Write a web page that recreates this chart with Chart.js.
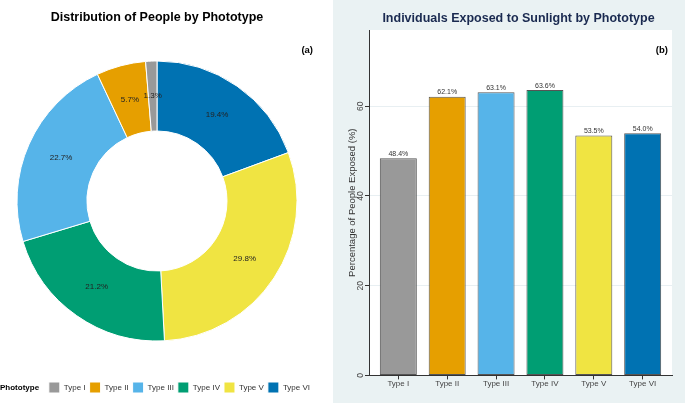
<!DOCTYPE html>
<html>
<head>
<meta charset="utf-8">
<script src="https://cdn.jsdelivr.net/npm/chart.js@4.4.0/dist/chart.umd.min.js"></script>
<style>
  body { margin: 0; background: #fff; }
  #wrap { position: relative; width: 685px; height: 403px; }
  canvas { position: absolute; top: 0; }
</style>
</head>
<body>
<div id="wrap">
  <canvas id="pieChart" width="333" height="403" style="left:0"></canvas>
  <canvas id="barChart" width="352" height="403" style="left:333px"></canvas>
</div>
<script>
const phototypes = ['Type I', 'Type II', 'Type III', 'Type IV', 'Type V', 'Type VI'];
const typeColors = ['#999999', '#E69F00', '#56B4E9', '#009E73', '#F0E442', '#0072B2'];
const sharePct = [1.3, 5.7, 22.7, 21.2, 29.8, 19.4];     // (a) share of people
const exposedPct = [48.4, 62.1, 63.1, 63.6, 53.5, 54.0]; // (b) exposed to sunlight
const yTicks = [0, 20, 40, 60];

const FONT = "'Liberation Sans', Arial, sans-serif";
Chart.defaults.font.family = FONT;
Chart.defaults.animation = false;

// percentages inside slices + panel tag + legend title
const pieText = {
    id: 'pieText',
    afterDraw(chart) {
        const ctx = chart.ctx;
        const ds = chart.data.datasets[0];
        ctx.save();
        ctx.font = '8px ' + FONT;
        ctx.fillStyle = '#222';
        ctx.textAlign = 'center';
        ctx.textBaseline = 'middle';
        chart.getDatasetMeta(0).data.forEach((arc, i) => {
            const p = arc.tooltipPosition();
            ctx.fillText(ds.data[i].toFixed(1) + '%', p.x, p.y);
        });

        ctx.fillStyle = '#000';
        ctx.font = 'bold 9.5px ' + FONT;
        ctx.textAlign = 'right';
        ctx.fillText('(a)', 313, 50);

        const hb = chart.legend.legendHitBoxes[0];
        ctx.textAlign = 'left';
        ctx.font = 'bold 8px ' + FONT;
        ctx.fillText('Phototype', 0, hb.top + hb.height / 2);
        ctx.restore();
    }
};

// bluish-gray panel with a white plot region
const panelBg = {
    id: 'panelBg',
    beforeDraw(chart) {
        const { ctx, chartArea: a } = chart;
        ctx.save();
        ctx.fillStyle = '#eaf2f3';
        ctx.fillRect(0, 0, chart.width, chart.height);
        ctx.fillStyle = '#fff';
        ctx.fillRect(a.left, a.top, a.right - a.left, a.bottom - a.top);
        ctx.restore();
    }
};

// value labels, rotated y ticks and y title
const barText = {
    id: 'barText',
    afterDraw(chart) {
        const { ctx, chartArea: a } = chart;
        const ys = chart.scales.y;
        ctx.save();
        ctx.font = '7px ' + FONT;
        ctx.fillStyle = '#333';
        ctx.textAlign = 'center';
        ctx.textBaseline = 'bottom';
        chart.getDatasetMeta(0).data.forEach((bar, i) => {
            ctx.fillText(exposedPct[i].toFixed(1) + '%', bar.x, bar.y - 1);
        });

        ctx.textBaseline = 'middle';
        ctx.font = '8.5px ' + FONT;
        ctx.fillStyle = '#444';
        yTicks.forEach(v => {
            ctx.save();
            ctx.translate(28, ys.getPixelForValue(v));
            ctx.rotate(-Math.PI / 2);
            ctx.fillText(String(v), 0, 0);
            ctx.restore();
        });

        ctx.save();
        ctx.font = '9.5px ' + FONT;
        ctx.fillStyle = '#333';
        ctx.translate(19, (a.top + a.bottom) / 2);
        ctx.rotate(-Math.PI / 2);
        ctx.fillText('Percentage of People Exposed (%)', 0, 0);
        ctx.restore();

        ctx.font = 'bold 9.5px ' + FONT;
        ctx.fillStyle = '#000';
        ctx.textAlign = 'right';
        ctx.fillText('(b)', 335, 50);
        ctx.restore();
    }
};

new Chart(document.getElementById('pieChart'), {
    type: 'doughnut',
    data: {
        labels: phototypes.slice().reverse(),
        datasets: [{
            data: sharePct.slice().reverse(),
            backgroundColor: typeColors.slice().reverse(),
            borderColor: '#fff',
            borderWidth: 1
        }]
    },
    options: {
        responsive: false,
        radius: 140,
        cutout: '50%',
        layout: { padding: { right: 19 } },
        plugins: {
            title: {
                display: true,
                text: 'Distribution of People by Phototype',
                color: '#000',
                font: { size: 12.5, weight: 'bold', lineHeight: 1 },
                padding: { top: 11.5, bottom: 0 }
            },
            legend: {
                position: 'bottom',
                align: 'end',
                reverse: true,
                labels: { boxWidth: 11, boxHeight: 11, padding: 4, font: { size: 8 }, color: '#333' }
            },
            tooltip: { enabled: false }
        }
    },
    plugins: [pieText]
});

new Chart(document.getElementById('barChart'), {
    type: 'bar',
    data: {
        datasets: [{
            data: exposedPct.map((v, i) => ({ x: i, y: v })),
            backgroundColor: typeColors,
            borderColor: '#555',
            borderWidth: 1,
            borderSkipped: false,
            barPercentage: 0.757,
            categoryPercentage: 1
        }]
    },
    options: {
        responsive: false,
        layout: { padding: { left: 32, right: 13, bottom: 14 } },
        scales: {
            x: {
                type: 'linear',
                min: -0.6,
                max: 5.6,
                offset: false,
                ticks: {
                    stepSize: 1,
                    includeBounds: false,
                    autoSkip: false,
                    maxRotation: 0,
                    callback: v => phototypes[v],
                    font: { size: 8 },
                    color: '#444',
                    padding: 0
                },
                grid: { offset: false, drawOnChartArea: false, tickLength: 4, tickColor: '#333' },
                border: { color: '#333' }
            },
            y: {
                min: 0,
                max: 77,
                ticks: { display: false, stepSize: 20, includeBounds: false },
                grid: { color: '#e8eff2', tickLength: 4, tickColor: '#333' },
                border: { color: '#333' }
            }
        },
        plugins: {
            legend: { display: false },
            title: {
                display: true,
                text: 'Individuals Exposed to Sunlight by Phototype',
                color: '#1a2a50',
                font: { size: 12.5, weight: 'bold', lineHeight: 1.2 },
                padding: { top: 11.5, bottom: 3.5 }
            },
            tooltip: { enabled: false }
        }
    },
    plugins: [panelBg, barText]
});
</script>
</body>
</html>
